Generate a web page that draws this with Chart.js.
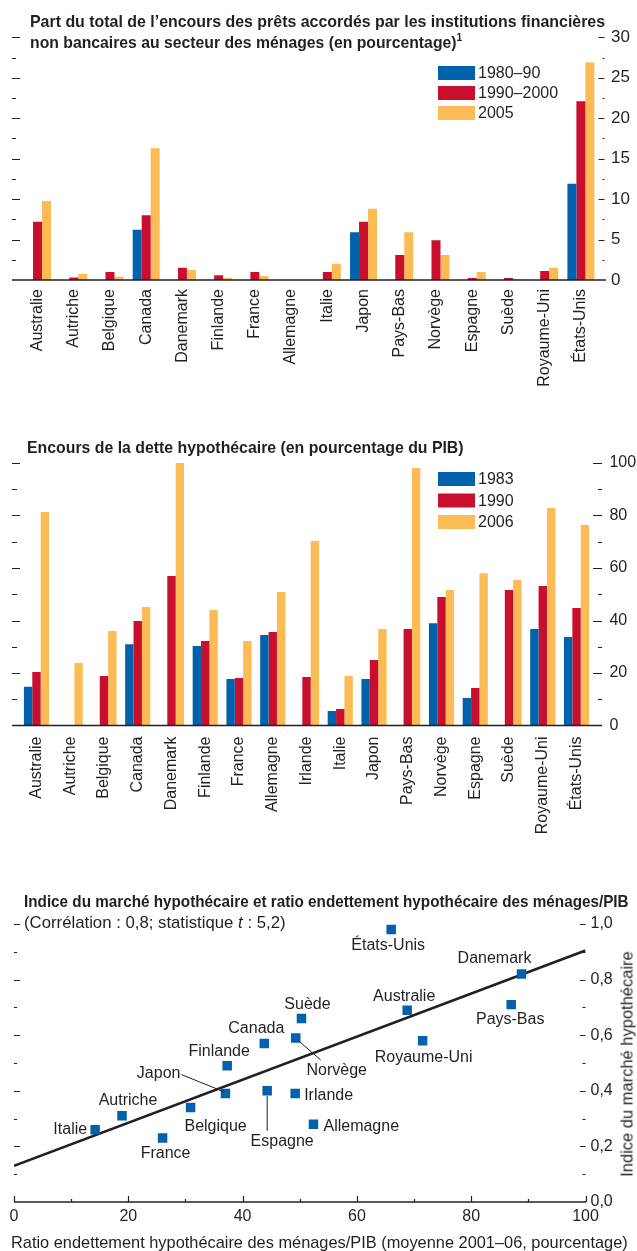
<!DOCTYPE html>
<html>
<head>
<meta charset="utf-8">
<script src="https://cdn.jsdelivr.net/npm/chart.js@4/dist/chart.umd.min.js"></script>
<style>
  body { margin: 0; width: 637px; height: 1251px; position: relative; overflow: hidden; background: #fff; color: #231f20;
         font-family: "Liberation Sans", Arial, sans-serif; }
  canvas { position: absolute; left: 0; }
  .txt { position: absolute; white-space: nowrap; line-height: 1; font-size: 17px; transform-origin: 0 0; }
  .bold { font-weight: bold; font-family: "Liberation Sans Narrow", "Liberation Sans", Arial, sans-serif; }
  .txt sup { font-size: 11px; line-height: 0; }
</style>
</head>
<body>
<canvas id="nbfi" width="637" height="400" style="top:0"></canvas>
<canvas id="mortgage" width="637" height="430" style="top:420px"></canvas>
<canvas id="market" width="637" height="371" style="top:880px"></canvas>

<span class="txt bold" data-w="575" style="left:30px;top:12.6px">Part du total de l’encours des prêts accordés par les institutions financières</span>
<span class="txt bold" data-w="432" style="left:30px;top:33.6px">non bancaires au secteur des ménages (en pourcentage)<sup>1</sup></span>
<span class="txt bold" data-w="437" style="left:27px;top:438.8px">Encours de la dette hypothécaire (en pourcentage du PIB)</span>
<span class="txt bold" data-w="605" style="left:24px;top:893.3px">Indice du marché hypothécaire et ratio endettement hypothécaire des ménages/PIB</span>
<span class="txt" data-w="262" style="left:24px;top:913.8px">(Corrélation : 0,8; statistique <i>t</i> : 5,2)</span>
<span class="txt" data-w="617" style="left:11px;top:1233.5px">Ratio endettement hypothécaire des ménages/PIB (moyenne 2001–06, pourcentage)</span>
<span class="txt" data-w="225" data-rot="1" style="left:627px;top:1064px">Indice du marché hypothécaire</span>

<script>
// ---- data: non-bank lending share (%)
const nbfiCountries = ['Australie', 'Autriche', 'Belgique', 'Canada', 'Danemark', 'Finlande', 'France', 'Allemagne',
  'Italie', 'Japon', 'Pays-Bas', 'Norvège', 'Espagne', 'Suède', 'Royaume-Uni', 'États-Unis'];
const nbfi1980s = [null, null, null, 6.2, null, null, null, null, null, 5.9, null, null, null, null, null, 11.9];
const nbfi1990s = [7.2, 0.3, 1.0, 8.0, 1.5, 0.6, 1.0, null, 1.0, 7.2, 3.1, 4.9, 0.25, 0.25, 1.1, 22.1];
const nbfi2005 = [9.75, 0.75, 0.4, 16.3, 1.25, 0.25, 0.5, null, 2.0, 8.8, 5.9, 3.1, 1.0, 0.1, 1.5, 26.9];
const nbfiTicks = [0, 5, 10, 15, 20, 25, 30];

// ---- data: mortgage debt (% of GDP)
const debtCountries = ['Australie', 'Autriche', 'Belgique', 'Canada', 'Danemark', 'Finlande', 'France', 'Allemagne',
  'Irlande', 'Italie', 'Japon', 'Pays-Bas', 'Norvège', 'Espagne', 'Suède', 'Royaume-Uni', 'États-Unis'];
const debt1983 = [14.8, null, null, 31, null, 30.3, 17.7, 34.5, null, 5.5, 17.7, null, 39, 10.5, null, 36.8, 33.7];
const debt1990 = [20.4, null, 18.9, 39.8, 57, 32.2, 18.1, 35.6, 18.5, 6.3, 25, 36.8, 49, 14.3, 51.6, 53.1, 44.8];
const debt2006 = [81.3, 23.8, 36, 45.1, 100, 44, 32.2, 50.9, 70.3, 18.9, 36.8, 98.1, 51.6, 58, 55.4, 82.9, 76.4];
const debtTicks = [0, 20, 40, 60, 80, 100];

// ---- data: mortgage market index vs debt ratio
const marketCountries = ['Italie', 'Autriche', 'France', 'Belgique', 'Japon', 'Finlande', 'Canada', 'Espagne', 'Irlande',
  'Norvège', 'Suède', 'Allemagne', 'États-Unis', 'Australie', 'Royaume-Uni', 'Pays-Bas', 'Danemark'];
const debtRatio = [14.2, 18.9, 26.0, 30.9, 37.0, 37.3, 43.8, 44.3, 49.2, 49.3, 50.3, 52.4, 66.0, 68.8, 71.5, 87.0, 88.8];
const marketIndex = [0.26, 0.31, 0.23, 0.34, 0.39, 0.49, 0.57, 0.40, 0.39, 0.59, 0.66, 0.28, 0.98, 0.69, 0.58, 0.71, 0.82];
const fitX = [0, 100];
const fitY = [0.13, 0.905];
const ratioTicks = [0, 20, 40, 60, 80, 100];
const indexTicks = [0, 0.2, 0.4, 0.6, 0.8, 1.0];

const ink = '#231f20';
const blue = '#0061ad', red = '#c8102e', gold = '#fdbb55';

// where each scatter label sits relative to its square: dx, dy, align
const notePlace = {
  'Italie': [-8, 0, 'right'], 'Autriche': [6, -15, 'center'], 'France': [3, 16, 'center'],
  'Belgique': [25, 19, 'center'], 'Japon': [-45, -20, 'right'], 'Finlande': [-8, -14, 'center'],
  'Canada': [-8, -15, 'center'], 'Espagne': [15, 51, 'center'], 'Irlande': [9, 2, 'left'],
  'Norvège': [41, 33, 'center'], 'Suède': [6, -14, 'center'], 'Allemagne': [10, 2, 'left'],
  'États-Unis': [-3, 16, 'center'], 'Australie': [-3, -14, 'center'], 'Royaume-Uni': [1, 17, 'center'],
  'Pays-Bas': [-1, 15, 'center'], 'Danemark': [-27, -15, 'center']
};
const noteLeaders = { 'Japon': [-44, -19, -2, -2], 'Espagne': [0, 5, 0, 40], 'Norvège': [3, 3, 25, 22] };

Chart.defaults.font.family = '"Liberation Sans", Arial, sans-serif';
Chart.defaults.font.size = 16;
Chart.defaults.color = ink;
Chart.defaults.animation = false;
Chart.defaults.plugins.legend.display = false;
Chart.defaults.plugins.tooltip.enabled = false;

const fixTicks = values => s => { s.ticks = values.map(v => ({ value: v })); };
const noGrid = { display: false, drawTicks: false };

// small tick marks on both sides + zero line
const axisMarks = {
  id: 'axisMarks',
  afterDraw(chart, args, o) {
    const ctx = chart.ctx, ys = chart.scales.y;
    ctx.save();
    ctx.strokeStyle = ink;
    ctx.lineWidth = 1.2;
    ctx.beginPath();
    const n = Math.round((ys.max - ys.min) / o.step);
    for (let i = 1; i <= n; i++) {
      const v = ys.min + i * o.step;
      const py = Math.round(ys.getPixelForValue(v)) + 0.5;
      const big = Math.abs(v / o.major - Math.round(v / o.major)) < 1e-6;
      ctx.moveTo(o.left[0], py); ctx.lineTo(o.left[0] + (big ? o.left[1] : o.left[2]), py);
      ctx.moveTo(o.right[0] - (big ? o.right[1] : o.right[2]), py); ctx.lineTo(o.right[0], py);
    }
    const by = ys.getPixelForValue(0);
    if (o.xstep) {
      const xs = chart.scales.x;
      for (let v = xs.min; v <= xs.max + 1e-9; v += o.xstep) {
        const px = Math.round(xs.getPixelForValue(v)) + 0.5;
        const big = Math.abs(v / o.xmajor - Math.round(v / o.xmajor)) < 1e-6;
        ctx.moveTo(px, by); ctx.lineTo(px, by - (big ? o.xup[0] : o.xup[1]));
      }
    }
    ctx.stroke();
    ctx.lineWidth = 1.5;
    ctx.beginPath();
    ctx.moveTo(o.base[0], by); ctx.lineTo(o.base[1], by);
    ctx.stroke();
    ctx.restore();
  }
};

// legend boxes inside the plot
const boxLegend = {
  id: 'boxLegend',
  afterDraw(chart, args, o) {
    const ctx = chart.ctx;
    ctx.save();
    ctx.font = '16px "Liberation Sans", Arial, sans-serif';
    ctx.textBaseline = 'middle';
    chart.data.datasets.forEach((ds, i) => {
      const y = o.y + i * o.gap;
      ctx.fillStyle = ds.backgroundColor;
      ctx.fillRect(o.x, y - 7, 37, 14);
      ctx.fillStyle = ink;
      ctx.fillText(ds.label, o.x + 40, y + 1);
    });
    ctx.restore();
  }
};

// country names beside the scatter squares
const pointNotes = {
  id: 'pointNotes',
  afterDraw(chart) {
    const ctx = chart.ctx;
    const pts = chart.getDatasetMeta(0).data;
    ctx.save();
    ctx.font = '16px "Liberation Sans", Arial, sans-serif';
    ctx.textBaseline = 'middle';
    ctx.fillStyle = ink;
    ctx.strokeStyle = ink;
    ctx.lineWidth = 1;
    marketCountries.forEach((name, i) => {
      const p = pts[i], pl = notePlace[name];
      ctx.textAlign = pl[2];
      ctx.fillText(name, p.x + pl[0], p.y + pl[1]);
      const ld = noteLeaders[name];
      if (ld) {
        ctx.beginPath();
        ctx.moveTo(p.x + ld[0], p.y + ld[1]);
        ctx.lineTo(p.x + ld[2], p.y + ld[3]);
        ctx.stroke();
      }
    });
    ctx.restore();
  }
};

function barChart(id, cats, series, names, ticks, max, box) {
  return new Chart(document.getElementById(id), {
    type: 'bar',
    data: {
      labels: cats,
      datasets: series.map((d, i) => ({ label: names[i], data: d, backgroundColor: [blue, red, gold][i], borderWidth: 0 }))
    },
    options: {
      responsive: false,
      layout: { padding: { left: box.left, top: box.top, right: 0, bottom: 0 }, autoPadding: false },
      datasets: { bar: { categoryPercentage: 0.745, barPercentage: 1 } },
      plugins: { axisMarks: box.marks, boxLegend: box.legend },
      scales: {
        x: {
          grid: noGrid, border: { display: false },
          ticks: { minRotation: 90, maxRotation: 90, autoSkip: false, padding: box.labelPad, font: { size: 16 } },
          afterFit: s => { s.height = box.xh; }
        },
        y: {
          position: 'right', min: 0, max: max,
          grid: noGrid, border: { display: false },
          ticks: { padding: box.tickPad, font: { size: box.tickSize } },
          afterBuildTicks: fixTicks(ticks),
          afterFit: s => { s.width = box.yw; }
        }
      }
    },
    plugins: [axisMarks, boxLegend]
  });
}

barChart('nbfi', nbfiCountries, [nbfi1980s, nbfi1990s, nbfi2005], ['1980–90', '1990–2000', '2005'], nbfiTicks, 30, {
  left: 19.4, top: 37.3, xh: 120, yw: 38, labelPad: 9, tickPad: 12, tickSize: 17,
  marks: { step: 2.5, major: 5, left: [12, 8, 4], right: [604.5, 6, 2], base: [12, 606] },
  legend: { x: 438, y: 73, gap: 20 }
});

barChart('mortgage', debtCountries, [debt1983, debt1990, debt2006], ['1983', '1990', '2006'], debtTicks, 100, {
  left: 19.6, top: 43, xh: 124.5, yw: 43.6, labelPad: 11, tickPad: 16, tickSize: 16,
  marks: { step: 10, major: 20, left: [12, 8, 5], right: [602, 9, 4], base: [12, 602] },
  legend: { x: 438, y: 59, gap: 21.5 }
});

new Chart(document.getElementById('market'), {
  type: 'scatter',
  data: {
    datasets: [
      {
        data: debtRatio.map((x, i) => ({ x: x, y: marketIndex[i] })),
        backgroundColor: blue, borderWidth: 0, pointStyle: 'rect', pointRadius: 6.7, order: 0
      },
      {
        type: 'line', data: fitX.map((x, i) => ({ x: x, y: fitY[i] })),
        borderColor: ink, borderWidth: 2.6, pointRadius: 0, showLine: true, order: 1
      }
    ]
  },
  options: {
    responsive: false,
    layout: { padding: { left: 14, top: 44, right: 0, bottom: 0 }, autoPadding: false },
    plugins: {
      axisMarks: { step: 0.1, major: 0.2, left: [14, 6, 3], right: [585.5, 5.5, 3], base: [14, 586], xstep: 10, xmajor: 20, xup: [6, 3] }
    },
    scales: {
      x: {
        type: 'linear', min: 0, max: 100,
        grid: noGrid, border: { display: false },
        ticks: { padding: 5, font: { size: 16 } },
        afterBuildTicks: fixTicks(ratioTicks),
        afterFit: s => { s.height = 49; }
      },
      y: {
        position: 'right', min: 0, max: 1,
        grid: noGrid, border: { display: false },
        ticks: { padding: 5, font: { size: 16 }, callback: v => v.toFixed(1).replace('.', ',') },
        afterBuildTicks: fixTicks(indexTicks),
        afterFit: s => { s.width = 51.5; }
      }
    }
  },
  plugins: [axisMarks, pointNotes]
});

// fit the free text lines to the widths they take in the original
document.querySelectorAll('.txt').forEach(el => {
  const k = +el.dataset.w / el.offsetWidth;
  if (el.dataset.rot) {
    el.style.transform = 'rotate(-90deg) scaleX(' + k + ') translate(-50%, -50%)';
  } else {
    el.style.transform = 'scaleX(' + k + ')';
  }
});
</script>
</body>
</html>
